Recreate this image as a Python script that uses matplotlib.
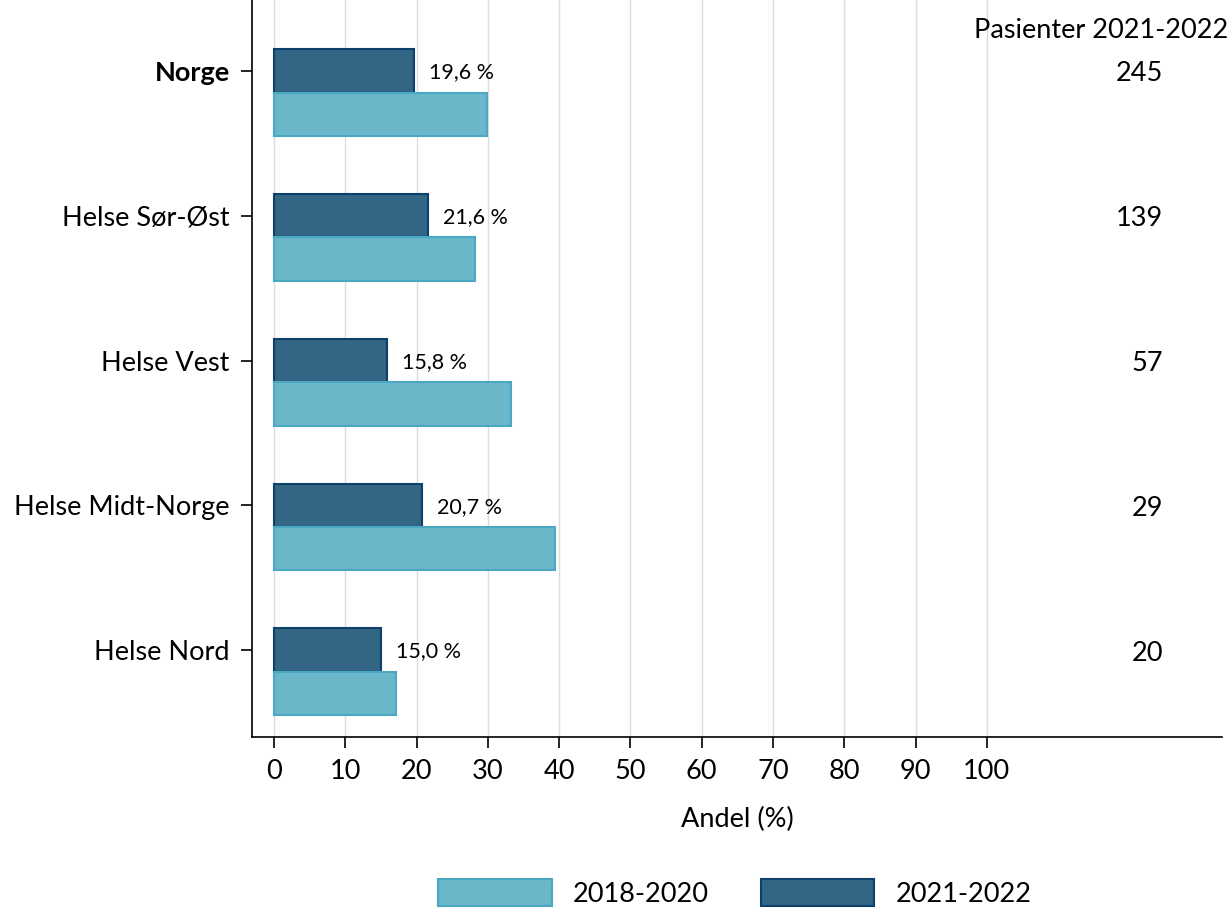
import numpy as np
import matplotlib.pyplot as plt
from matplotlib.transforms import blended_transform_factory

# data
regions = ['Norge', 'Helse Sør-Øst', 'Helse Vest', 'Helse Midt-Norge', 'Helse Nord']
andel_2018_2020 = [29.9, 28.2, 33.2, 39.4, 17.1]
andel_2021_2022 = [19.6, 21.6, 15.8, 20.7, 15.0]
pasienter = [245, 139, 57, 29, 20]
xticks = [0, 10, 20, 30, 40, 50, 60, 70, 80, 90, 100]

plt.rcParams['font.family'] = ['Lato', 'DejaVu Sans']

light = '#6bb7ca'
light_edge = '#4aa8c2'
dark = '#336585'
dark_edge = '#0d416c'
fs = 19.5

fig = plt.figure(figsize=(12.31, 9.08), dpi=100)
ax = fig.add_axes([252 / 1231, 1 - 737 / 908, (1222 - 252) / 1231, 737 / 908])

y = np.arange(len(regions))
h = 0.3
ax.barh(y, andel_2021_2022, height=h, color=dark, edgecolor=dark_edge, linewidth=1.5,
        label='2021-2022', zorder=3)
ax.barh(y + h, andel_2018_2020, height=h, color=light, edgecolor=light_edge, linewidth=1.5,
        label='2018-2020', zorder=3)

for yi, v in zip(y, andel_2021_2022):
    ax.text(v + 2.1, yi + 0.01, f'{v:.1f} %'.replace('.', ','), va='center', ha='left',
            fontsize=15.5)

ax.set_xlim(-3.1, 133)
ax.set_ylim(4.6, -0.49)
ax.set_xticks(xticks)
ax.set_xticklabels([str(t) for t in xticks], fontsize=fs)
ax.set_yticks(y)
ax.set_yticklabels(regions, fontsize=fs)
ax.get_yticklabels()[0].set_fontweight('bold')
ax.tick_params(axis='both', length=8, width=1.2)
ax.tick_params(axis='x', pad=8)
ax.tick_params(axis='y', pad=8)
ax.set_xlabel('Andel (%)', fontsize=fs, labelpad=16)

for t in xticks:
    ax.axvline(t, color='#dcdcdc', lw=1, zorder=0)

for side in ['top', 'right']:
    ax.spines[side].set_visible(False)
ax.spines['left'].set_linewidth(1.2)
ax.spines['bottom'].set_linewidth(1.2)

# patient counts column
for yi, n in zip(y, pasienter):
    ax.text(124.7, yi + 0.02, str(n), ha='right', va='center', fontsize=fs, clip_on=False)
trans = blended_transform_factory(fig.transFigure, ax.transData)
ax.text(0.9976, -0.28, 'Pasienter 2021-2022', ha='right', va='center', fontsize=fs,
        transform=trans, clip_on=False)

handles, labels = ax.get_legend_handles_labels()
fig.legend(handles[::-1], labels[::-1], loc='center', bbox_to_anchor=(0.597, 0.0165),
           ncol=2, frameon=False, fontsize=fs, handlelength=4.2, handleheight=1.15,
           columnspacing=1.9, borderpad=0, handletextpad=0.8)

fig.savefig('out.png', dpi=100)
